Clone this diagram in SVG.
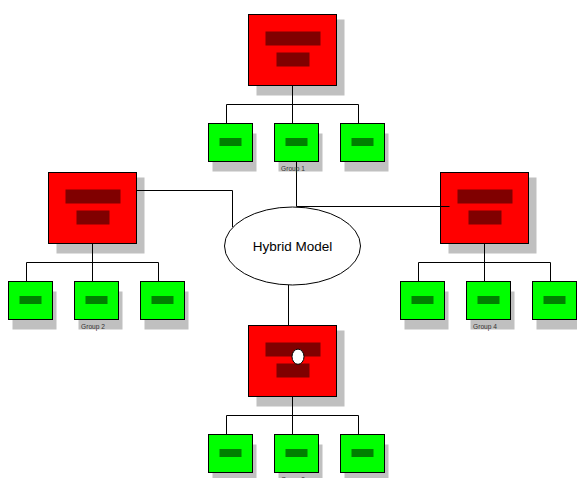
<svg xmlns="http://www.w3.org/2000/svg" width="577" height="478" viewBox="0 0 577 478">
<style>
.sh{fill:#c0c0c0}
.red{fill:#ff0000;stroke:#000;stroke-width:1}
.db{fill:#800000}
.grn{fill:#00ff00;stroke:#000;stroke-width:1}
.gb{fill:#008000}
.ln{fill:none;stroke:#000;stroke-width:1}
.lbl{font-family:"Liberation Sans",Arial,sans-serif;font-size:6.6px;fill:#333;text-anchor:middle}
.hm{font-family:"Liberation Sans",Arial,sans-serif;font-size:13.5px;fill:#000;text-anchor:middle}
</style>
<rect width="577" height="478" fill="#fff"/>
<g id="red-top">
<rect class="sh" x="256.5" y="19.5" width="88" height="76"/>
<rect class="red" x="248.5" y="14.5" width="88" height="71"/>
<rect class="db" x="265.5" y="31.5" width="55" height="14"/>
<rect class="db" x="276.5" y="52.5" width="33" height="14"/>
</g>
<g id="green-top-1"><rect class="sh" x="212.5" y="133.5" width="44" height="38"/><rect class="grn" x="208.5" y="123.5" width="44" height="38"/><rect class="gb" x="219.5" y="138" width="22" height="8"/></g>
<g id="green-top-2"><rect class="sh" x="278.5" y="133.5" width="44" height="38"/><rect class="grn" x="274.5" y="123.5" width="44" height="38"/><rect class="gb" x="285.5" y="138" width="22" height="8"/></g>
<g id="green-top-3"><rect class="sh" x="344.5" y="133.5" width="44" height="38"/><rect class="grn" x="340.5" y="123.5" width="44" height="38"/><rect class="gb" x="351.5" y="138" width="22" height="8"/></g>
<g id="red-left">
<rect class="sh" x="56.5" y="177.5" width="88" height="76"/>
<rect class="red" x="48.5" y="172.5" width="88" height="71"/>
<rect class="db" x="65.5" y="189.5" width="55" height="14"/>
<rect class="db" x="76.5" y="210.5" width="33" height="14"/>
</g>
<g id="green-left-1"><rect class="sh" x="12.5" y="291.5" width="44" height="38"/><rect class="grn" x="8.5" y="281.5" width="44" height="38"/><rect class="gb" x="19.5" y="296" width="22" height="8"/></g>
<g id="green-left-2"><rect class="sh" x="78.5" y="291.5" width="44" height="38"/><rect class="grn" x="74.5" y="281.5" width="44" height="38"/><rect class="gb" x="85.5" y="296" width="22" height="8"/></g>
<g id="green-left-3"><rect class="sh" x="144.5" y="291.5" width="44" height="38"/><rect class="grn" x="140.5" y="281.5" width="44" height="38"/><rect class="gb" x="151.5" y="296" width="22" height="8"/></g>
<g id="red-right">
<rect class="sh" x="448.5" y="177.5" width="88" height="76"/>
<rect class="red" x="440.5" y="172.5" width="88" height="71"/>
<rect class="db" x="457.5" y="189.5" width="55" height="14"/>
<rect class="db" x="468.5" y="210.5" width="33" height="14"/>
</g>
<g id="green-right-1"><rect class="sh" x="404.5" y="291.5" width="44" height="38"/><rect class="grn" x="400.5" y="281.5" width="44" height="38"/><rect class="gb" x="411.5" y="296" width="22" height="8"/></g>
<g id="green-right-2"><rect class="sh" x="470.5" y="291.5" width="44" height="38"/><rect class="grn" x="466.5" y="281.5" width="44" height="38"/><rect class="gb" x="477.5" y="296" width="22" height="8"/></g>
<g id="green-right-3"><rect class="sh" x="536.5" y="291.5" width="44" height="38"/><rect class="grn" x="532.5" y="281.5" width="44" height="38"/><rect class="gb" x="543.5" y="296" width="22" height="8"/></g>
<g id="red-bottom">
<rect class="sh" x="256.5" y="330.5" width="88" height="76"/>
<rect class="red" x="248.5" y="325.5" width="88" height="71"/>
<rect class="db" x="265.5" y="342.5" width="55" height="14"/>
<rect class="db" x="276.5" y="363.5" width="33" height="14"/>
<ellipse cx="298" cy="356.7" rx="6" ry="7.6" fill="#fff" stroke="#000" stroke-width="1"/>
</g>
<g id="green-bottom-1"><rect class="sh" x="212.5" y="444.5" width="44" height="38"/><rect class="grn" x="208.5" y="434.5" width="44" height="38"/><rect class="gb" x="219.5" y="449" width="22" height="8"/></g>
<g id="green-bottom-2"><rect class="sh" x="278.5" y="444.5" width="44" height="38"/><rect class="grn" x="274.5" y="434.5" width="44" height="38"/><rect class="gb" x="285.5" y="449" width="22" height="8"/></g>
<g id="green-bottom-3"><rect class="sh" x="344.5" y="444.5" width="44" height="38"/><rect class="grn" x="340.5" y="434.5" width="44" height="38"/><rect class="gb" x="351.5" y="449" width="22" height="8"/></g>
<g id="hybrid-model">
<ellipse cx="292.5" cy="246" rx="68" ry="39" fill="#fff" stroke="#000" stroke-width="1"/>
<text class="hm" x="292.5" y="251">Hybrid Model</text>
</g>
<g id="connectors">
<path class="ln" d="M292.5,85.5V104.5M226.5,123.5V104.5H358.5V123.5M292.5,104.5V123.5"/>
<path class="ln" d="M92.5,243.5V262.5M26.5,281.5V262.5H158.5V281.5M92.5,262.5V281.5"/>
<path class="ln" d="M484.5,243.5V262.5M418.5,281.5V262.5H550.5V281.5M484.5,262.5V281.5"/>
<path class="ln" d="M292.5,396.5V415.5M226.5,434.5V415.5H358.5V434.5M292.5,415.5V434.5"/>
<path class="ln" d="M136.5,190.5H232.5V227"/>
<path class="ln" d="M296.5,161.5V206.5H449.5"/>
<path class="ln" d="M288.5,285V325.5"/>
</g>
<g id="labels">
<text class="lbl" x="293" y="170.5">Group 1</text>
<text class="lbl" x="93" y="328.5">Group 2</text>
<text class="lbl" x="293" y="481.5">Group 3</text>
<text class="lbl" x="485" y="328.5">Group 4</text>
</g>
</svg>
